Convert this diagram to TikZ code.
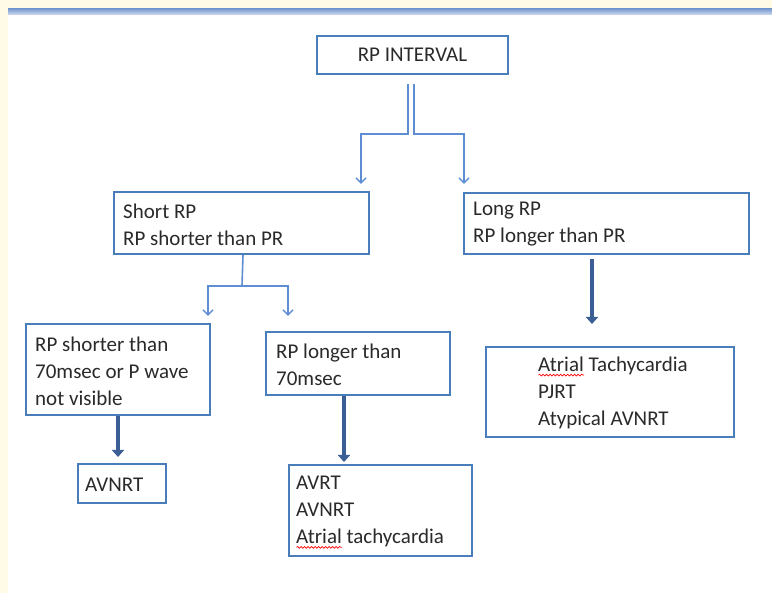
\documentclass[tikz,border=0pt]{standalone}
\usepackage{fontspec}
\setmainfont{Carlito}
\usetikzlibrary{arrows.meta,calc,decorations.pathmorphing}

\definecolor{cream}{HTML}{FFFBE6}
\definecolor{bandtop}{HTML}{7B9DD0}
\definecolor{bandbot}{HTML}{D3DEF0}
\definecolor{boxblue}{HTML}{4A7EBB}
\definecolor{linkblue}{HTML}{5F8DD3}
\definecolor{heavyblue}{HTML}{3B5F95}
\definecolor{txt}{HTML}{2A2A2A}

% red wavy spell-check underline under a word
\newsavebox\spellbox
\newcommand\spellmark[1]{\sbox\spellbox{#1}\rlap{\tikz[x=1pt,y=1pt,baseline=0pt]
  \draw[red, line width=0.7pt, decorate,
    decoration={snake,amplitude=0.9pt,segment length=3.5pt}]
    (0,-3.5) -- (\the\wd\spellbox,-3.5);}\usebox\spellbox\relax}

\tikzset{
  box/.style={draw=boxblue, line width=2pt, fill=white, anchor=north west,
    inner sep=0pt, text=txt, font=\fontsize{21}{27}\selectfont},
  label text/.style={anchor=west, inner sep=0pt, align=left, text=txt,
    font=\fontsize{21}{27}\selectfont},
  link/.style={draw=linkblue, line width=1.6pt},
  linkarrow/.style={link, -{Straight Barb[length=5pt,width=10pt,line width=1.5pt]}},
  heavy/.style={draw=heavyblue, line width=4pt,
    -{Triangle[length=7pt,width=12pt]}},
}

\begin{document}
\begin{tikzpicture}[x=1pt,y=-1pt]
  % page background with cream margins and blue header band
  \fill[white] (0,0) rectangle (772,593);
  \useasboundingbox (0,0) rectangle (772,593);
  \fill[cream] (0,0) rectangle (772,9);
  \fill[cream] (0,0) rectangle (8,593);
  \shade[top color=bandtop, bottom color=bandbot] (8,9) rectangle (772,15);

  % boxes
  \node[box, minimum width=191pt, minimum height=38pt] (top) at (316,35) {RP INTERVAL};
  \node[box, minimum width=255pt, minimum height=62pt] (short) at (113,191) {};
  \node[box, minimum width=285pt, minimum height=61pt] (long) at (463,192) {};
  \node[box, minimum width=184pt, minimum height=91pt] (lshort) at (25,323) {};
  \node[box, minimum width=184pt, minimum height=63pt] (llong) at (265,331) {};
  \node[box, minimum width=88pt, minimum height=39pt] (avnrt) at (77,463) {};
  \node[box, minimum width=183pt, minimum height=91pt] (mid) at (288,464) {};
  \node[box, minimum width=248pt, minimum height=90pt] (right) at (485,346) {};

  % box texts
  \node[label text] (shortT) at ($(short.west)+(10,2)$) {Short RP\\RP shorter than PR};
  \node[label text] (longT) at ($(long.west)+(10,1)$) {Long RP\\RP longer than PR};
  \node[label text] (lshortT) at ($(lshort.west)+(10,2)$) {RP shorter than\\70msec or P wave\\not visible};
  \node[label text] (llongT) at ($(llong.west)+(11,1)$) {RP longer than\\70msec};
  \node[label text] (avnrtT) at ($(avnrt.west)+(8,1)$) {AVNRT};
  \node[label text] (midT) at ($(mid.west)+(8,2)$) {AVRT\\AVNRT\\\spellmark{Atrial} tachycardia};
  \node[label text] (rightT) at ($(right.west)+(53,1)$) {\spellmark{Atrial} Tachycardia\\PJRT\\Atypical AVNRT};

  % split below the top box
  \coordinate (aL) at (361,184);
  \coordinate (aR) at (464,184);
  \draw[linkarrow] ($(top.south)+(-4.5,9)$) -- ++(0,50) -| (aL);
  \draw[linkarrow] ($(top.south)+(1.5,9)$) -- ++(0,50) -| (aR);

  % split below the short-RP box
  \coordinate (sJ) at (242,286);
  \coordinate (bL) at (208,316);
  \coordinate (bR) at (288,316);
  \draw[link] ($(short.south)+(1.5,0)$) -- (sJ);
  \draw[linkarrow] (sJ) -| (bL);
  \draw[linkarrow] (sJ) -| (bR);

  % heavy arrows to the results
  \draw[heavy, shorten >=6pt] (lshort.south) -- (lshort.south |- avnrt.north);
  \draw[heavy, shorten >=2pt] ($(llong.south)+(-14,0)$) -- ($(llong.south |- mid.north)+(-14,0)$);
  \draw[heavy, shorten <=4pt, shorten >=22pt] ($(long.south)+(-14.5,0)$) -- ($(long.south |- right.north)+(-14.5,0)$);
\end{tikzpicture}
\end{document}
